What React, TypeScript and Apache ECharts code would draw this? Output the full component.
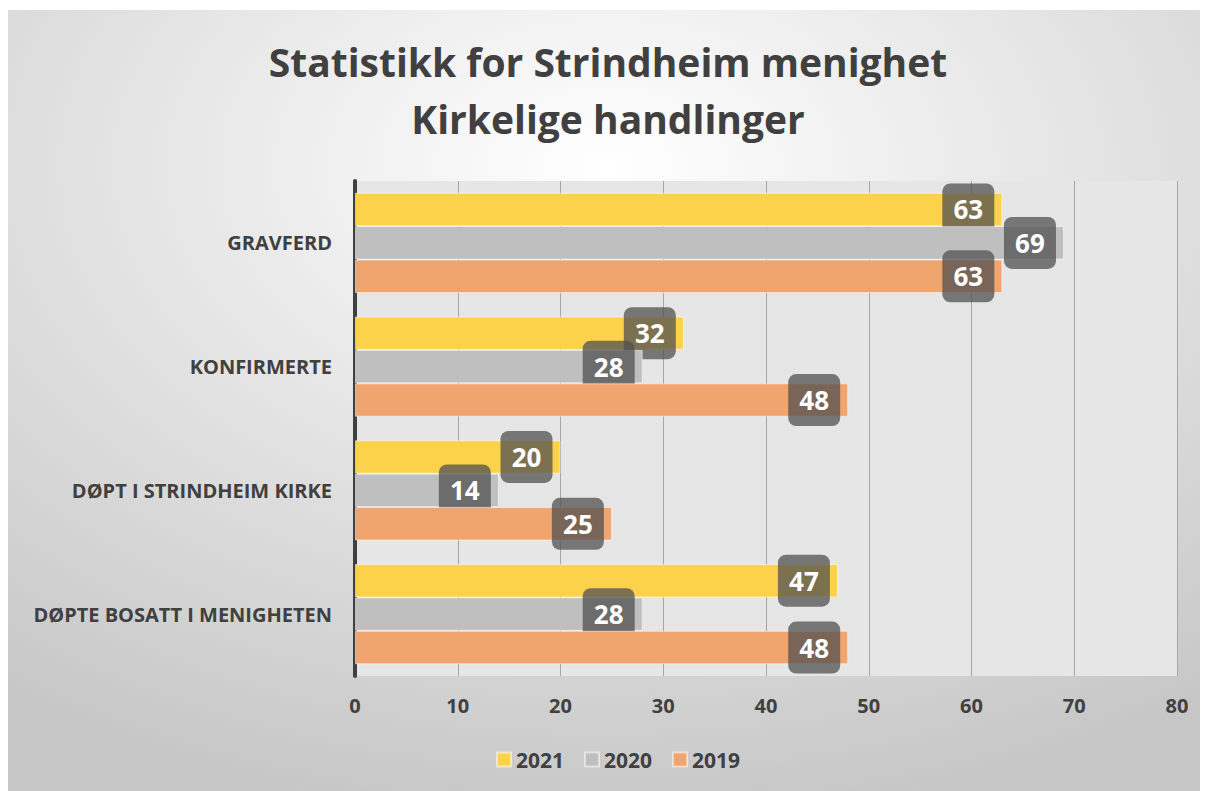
import React, { useEffect, useRef } from "react";
import * as echarts from "echarts";

const categories = [
  "DØPTE BOSATT I MENIGHETEN",
  "DØPT I STRINDHEIM KIRKE",
  "KONFIRMERTE",
  "GRAVFERD",
];
const years = ["2021", "2020", "2019"];
const values2021 = [47, 20, 32, 63];
const values2020 = [28, 14, 28, 69];
const values2019 = [48, 25, 48, 63];
const xTicks = [0, 10, 20, 30, 40, 50, 60, 70, 80];
const colors = ["#fdd24b", "#bfbfbf", "#f0a56f"];

const FONT = "'Open Sans', 'Noto Sans', sans-serif";

export default function App() {
  const ref = useRef<HTMLDivElement>(null);
  useEffect(() => {
    if (!ref.current) return;
    const chart = echarts.init(ref.current, null, { renderer: "svg" });
    const seriesData = [values2021, values2020, values2019];
    chart.setOption({
      animation: false,
      backgroundColor: {
        type: "radial",
        x: 0.5,
        y: 0.2,
        r: 0.85,
        colorStops: [
          { offset: 0, color: "#ffffff" },
          { offset: 1, color: "#c6c6c6" },
        ],
      },
      title: {
        text: "Statistikk for Strindheim menighet\nKirkelige handlinger",
        left: "center",
        top: 18,
        textStyle: {
          fontFamily: FONT,
          fontWeight: "bold",
          fontSize: 39,
          lineHeight: 57,
          color: "#404040",
        },
      },
      legend: {
        data: years,
        bottom: 16,
        left: 483,
        itemWidth: 14,
        itemHeight: 14,
        itemGap: 20,
        icon: "rect",
        textStyle: {
          fontFamily: FONT,
          fontWeight: "bold",
          fontSize: 21,
          color: "#404040",
        },
      },
      grid: {
        left: 347,
        right: 31,
        top: 171,
        bottom: 115,
        show: true,
        backgroundColor: "#e6e6e6",
        borderWidth: 0,
        containLabel: false,
      },
      xAxis: {
        type: "value",
        min: 0,
        max: 80,
        interval: 10,
        axisLine: { show: false },
        axisTick: { show: false },
        splitLine: { show: true, lineStyle: { color: "#a6a6a6", width: 1 } },
        axisLabel: {
          fontFamily: FONT,
          fontWeight: "bold",
          fontSize: 20,
          color: "#404040",
          margin: 19,
          formatter: (v: number) => (xTicks.includes(v) ? String(v) : ""),
        },
      },
      yAxis: {
        type: "category",
        data: categories,
        axisLine: { show: true, lineStyle: { color: "#404040", width: 4 } },
        axisTick: { show: false },
        axisLabel: {
          fontFamily: FONT,
          fontWeight: "bold",
          fontSize: 20,
          color: "#404040",
          margin: 23,
        },
      },
      series: years.map((y, i) => ({
        name: y,
        type: "bar",
        data: seriesData[i],
        barGap: "0%",
        barCategoryGap: "19%",
        z: 2 + i,
        itemStyle: {
          color: colors[i],
          borderColor: "rgba(255,255,255,0.5)",
          borderWidth: 1,
        },
        label: {
          show: true,
          position: "insideRight",
          distance: 8,
          offset: [-26, 0],
          fontFamily: FONT,
          fontWeight: "bold",
          fontSize: 26,
          lineHeight: 26,
          color: "#ffffff",
          backgroundColor: "rgba(80,80,80,0.75)",
          borderRadius: 8,
          padding: [13, 11, 13, 11],
          width: 30,
          align: "center",
        },
      })),
    });
    return () => chart.dispose();
  }, []);
  return (
    <div
      ref={ref}
      style={{ width: 1200, height: 781, marginTop: 2 }}
    />
  );
}
